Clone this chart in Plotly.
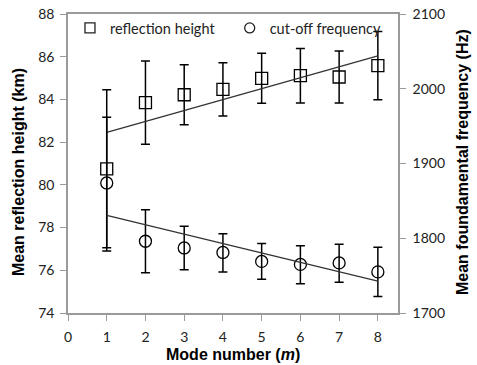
import numpy as np
import plotly.graph_objects as go

mode = [1, 2, 3, 4, 5, 6, 7, 8]
height_km = [80.75, 83.85, 84.22, 84.47, 84.99, 85.11, 85.05, 85.58]
height_err = [3.7, 1.95, 1.4, 1.25, 1.17, 1.28, 1.22, 1.6]
freq_hz = [1874, 1796, 1787, 1781, 1769, 1765, 1767, 1755]
freq_err_plus = [88, 42, 29, 25, 24, 25, 25, 33]
freq_err_minus = [91, 42, 29, 26, 24, 26, 26, 33]
x_ticks = [0, 1, 2, 3, 4, 5, 6, 7, 8]
left_ticks = [74, 76, 78, 80, 82, 84, 86, 88]
right_ticks = [1700, 1800, 1900, 2000, 2100]

tick_font = dict(family="Lato, Open Sans, sans-serif", size=14, color="#222")
title_font = dict(family="Liberation Sans, Arial, sans-serif", size=16, color="#000")
legend_font = dict(family="Lato, sans-serif", size=14.5, color="#222")
axis_col = "#9a9a9a"

# linear trend lines (least squares from the data)
xm = np.array(mode, dtype=float)
ph = np.polyfit(xm, height_km, 1)
pf = np.polyfit(xm, freq_hz, 1)
trend_x = [mode[0], mode[-1]]

fig = go.Figure()
fig.add_trace(go.Scatter(
    x=mode, y=height_km, mode="markers", name="reflection height", showlegend=False,
    marker=dict(symbol="square-open", size=12, color="#000", line=dict(width=1.3)),
    error_y=dict(type="data", array=height_err, color="#000", thickness=1.5, width=4.5),
))
fig.add_trace(go.Scatter(
    x=mode, y=freq_hz, mode="markers", name="cut-off frequency", yaxis="y2", showlegend=False,
    marker=dict(symbol="circle-open", size=12, color="#000", line=dict(width=1.3)),
    error_y=dict(type="data", symmetric=False, array=freq_err_plus,
                 arrayminus=freq_err_minus, color="#000", thickness=1.5, width=4.5),
))
fig.add_trace(go.Scatter(
    x=trend_x, y=[np.polyval(ph, v) for v in trend_x], mode="lines",
    line=dict(color="#333", width=1.3), showlegend=False, hoverinfo="skip",
))
fig.add_trace(go.Scatter(
    x=trend_x, y=[np.polyval(pf, v) for v in trend_x], mode="lines", yaxis="y2",
    line=dict(color="#333", width=1.3), showlegend=False, hoverinfo="skip",
))
# legend entries (smaller symbols, as in the reference legend)
fig.add_trace(go.Scatter(
    x=[None], y=[None], mode="markers", name="reflection height", legend="legend",
    marker=dict(symbol="square-open", size=10, color="#222", line=dict(width=1.3)),
))
fig.add_trace(go.Scatter(
    x=[None], y=[None], mode="markers", name="cut-off frequency", legend="legend2",
    marker=dict(symbol="circle-open", size=10, color="#222", line=dict(width=1.3)),
))

ax_common = dict(ticks="outside", ticklen=6, tickcolor=axis_col, showline=True,
                 linecolor=axis_col, linewidth=1.5, showgrid=False, zeroline=False,
                 tickfont=tick_font, automargin=False)

leg_common = dict(yanchor="middle", xanchor="left", y=(313 - 28) / 299,
                  bgcolor="rgba(0,0,0,0)", font=legend_font, itemwidth=30)

fig.update_layout(
    width=477, height=365,
    margin=dict(l=68, r=79, t=14, b=52, autoexpand=False),
    paper_bgcolor="white", plot_bgcolor="white",
    showlegend=True,
    legend=dict(x=0.006, **leg_common),
    legend2=dict(x=0.49, **leg_common),
    xaxis=dict(range=[0, 8.52], tickvals=x_ticks, mirror=True, ticklabelstandoff=4, **ax_common),
    yaxis=dict(range=[74, 88], tickvals=left_ticks, ticklabelstandoff=3, **ax_common),
    yaxis2=dict(range=[1700, 2100], tickvals=right_ticks, overlaying="y", side="right",
                ticklabelstandoff=4, **ax_common),
    annotations=[
        dict(text="<b>Mode number (<i>m</i>)</b>", xref="paper", yref="paper",
             x=0.5, y=(313 - 354) / 299, showarrow=False, font=title_font,
             xanchor="center", yanchor="middle"),
        dict(text="<b>Mean reflection height (km)</b>", xref="paper", yref="paper",
             x=(18 - 68) / 330, y=(313 - 172) / 299, showarrow=False, font=title_font,
             textangle=-90, xanchor="center", yanchor="middle"),
        dict(text="<b>Mean foundamental frequency (Hz)</b>", xref="paper", yref="paper",
             x=(462 - 68) / 330, y=(313 - 162) / 299, showarrow=False, font=title_font,
             textangle=-90, xanchor="center", yanchor="middle"),
    ],
)

fig.write_html("out.html", config={"displayModeBar": False},
               post_script="document.body.style.margin='0';")
